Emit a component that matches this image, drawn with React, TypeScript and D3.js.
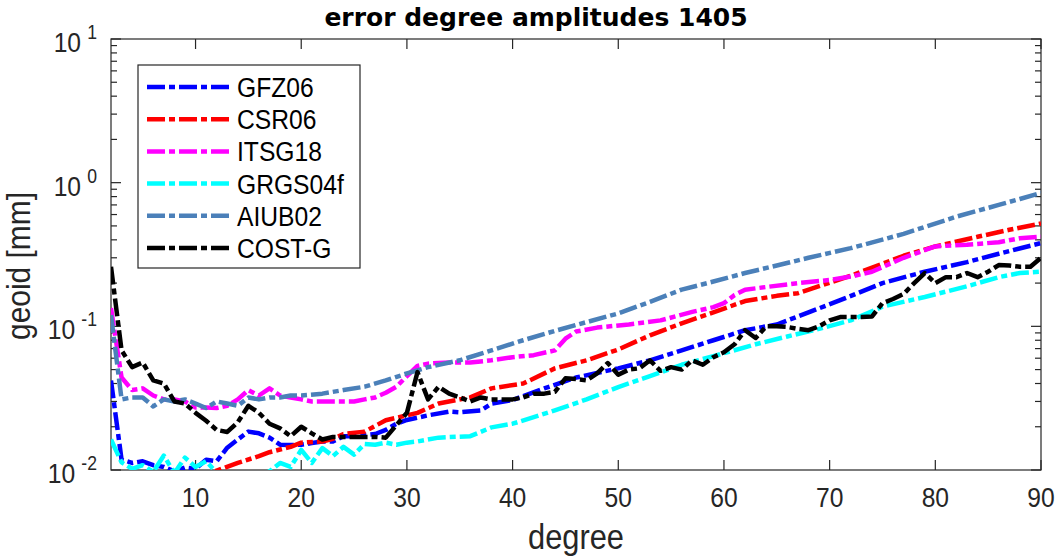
import React from 'react';
import * as d3 from 'd3';

// [degree, geoid error in mm]
const gfz06: [number, number][] = [
  [2, 0.042], [3, 0.0118], [4, 0.0112], [5, 0.0115], [6, 0.0108], [7, 0.0105], [8, 0.0098], [9, 0.0104],
  [10, 0.0102], [11, 0.0118], [12, 0.0115], [13, 0.0143], [14, 0.0163], [15, 0.0185], [16, 0.018], [17, 0.0168],
  [18, 0.015], [19, 0.0149], [20, 0.015], [21, 0.0154], [22, 0.0158], [23, 0.0158], [24, 0.0172], [25, 0.0172],
  [26, 0.0175], [27, 0.0178], [28, 0.019], [29, 0.021], [30, 0.0223], [32, 0.024], [34, 0.0255], [35, 0.0252],
  [37, 0.026], [38, 0.029], [40, 0.0307], [43, 0.037], [46, 0.044], [50, 0.051], [53, 0.058], [56, 0.068],
  [59, 0.08], [62, 0.094], [65, 0.103], [68, 0.125], [71, 0.152], [75, 0.2], [79, 0.24], [83, 0.28], [86, 0.32], [90, 0.38],
];
const csr06: [number, number][] = [
  [10, 0.0085], [11, 0.0092], [12, 0.0099], [14, 0.0112], [16, 0.0125], [17, 0.0133], [19, 0.0145], [20, 0.0155],
  [22, 0.0158], [23, 0.0165], [24, 0.0178], [26, 0.0185], [28, 0.0222], [30, 0.024], [31, 0.025], [33, 0.029],
  [36, 0.032], [38, 0.037], [41, 0.04], [44, 0.051], [47, 0.058], [50, 0.069], [53, 0.0866], [56, 0.105],
  [59, 0.125], [62, 0.15], [65, 0.163], [67, 0.17], [72, 0.225], [77, 0.31], [80, 0.36], [84, 0.42], [87, 0.47], [90, 0.52],
];
const itsg18: [number, number][] = [
  [2, 0.134], [3, 0.044], [4, 0.036], [5, 0.037], [6, 0.033], [7, 0.031], [8, 0.031], [9, 0.03],
  [10, 0.0272], [11, 0.0272], [12, 0.027], [13, 0.028], [14, 0.031], [15, 0.036], [16, 0.033], [17, 0.037],
  [18, 0.033], [19, 0.032], [20, 0.031], [21, 0.03], [22, 0.03], [23, 0.03], [24, 0.03], [25, 0.03],
  [26, 0.031], [27, 0.032], [28, 0.0345], [29, 0.038], [30, 0.045], [31, 0.053], [32, 0.055], [34, 0.056],
  [36, 0.056], [38, 0.058], [40, 0.061], [42, 0.063], [44, 0.068], [45, 0.082], [46, 0.092], [48, 0.098],
  [51, 0.103], [54, 0.11], [57, 0.126], [59, 0.136], [60, 0.145], [61, 0.165], [62, 0.18], [67, 0.2],
  [70, 0.21], [72, 0.222], [74, 0.24], [77, 0.3], [80, 0.36], [83, 0.37], [86, 0.385], [88, 0.41], [90, 0.42],
];
const grgs04f: [number, number][] = [
  [2, 0.0163], [3, 0.0113], [4, 0.0102], [5, 0.0108], [6, 0.0097], [7, 0.0126], [8, 0.0095], [9, 0.0122],
  [10, 0.0105], [11, 0.0115], [12, 0.0096], [13, 0.009], [14, 0.0088], [15, 0.0088], [16, 0.009], [17, 0.0098],
  [18, 0.0112], [19, 0.0105], [20, 0.0138], [21, 0.0112], [22, 0.0142], [23, 0.0125], [24, 0.0145], [25, 0.0128],
  [26, 0.0152], [27, 0.015], [28, 0.0155], [29, 0.015], [30, 0.0155], [31, 0.0158], [33, 0.0168], [36, 0.0172],
  [38, 0.0198], [40, 0.021], [42, 0.0233], [44, 0.026], [47, 0.031], [50, 0.0378], [53, 0.045], [56, 0.054],
  [59, 0.062], [63, 0.075], [66, 0.085], [69, 0.096], [72, 0.11], [75, 0.137], [79, 0.16], [83, 0.19],
  [86, 0.22], [88, 0.235], [90, 0.24],
];
const aiub02: [number, number][] = [
  [2, 0.12], [3, 0.031], [4, 0.032], [5, 0.032], [6, 0.0277], [7, 0.031], [8, 0.03], [9, 0.031],
  [10, 0.029], [11, 0.027], [12, 0.03], [13, 0.029], [14, 0.028], [15, 0.032], [16, 0.031], [17, 0.032],
  [18, 0.032], [19, 0.033], [20, 0.033], [22, 0.034], [24, 0.036], [26, 0.038], [28, 0.042], [30, 0.047],
  [32, 0.052], [35, 0.058], [38, 0.068], [41, 0.08], [44, 0.093], [47, 0.107], [50, 0.123], [53, 0.148],
  [56, 0.18], [59, 0.205], [62, 0.235], [65, 0.265], [68, 0.3], [72, 0.35], [77, 0.44], [82, 0.58],
  [86, 0.7], [88, 0.77], [90, 0.85],
];
const costG: [number, number][] = [
  [2, 0.26], [3, 0.068], [4, 0.052], [5, 0.056], [6, 0.042], [7, 0.04], [8, 0.03], [9, 0.029],
  [10, 0.025], [11, 0.022], [12, 0.019], [13, 0.0184], [14, 0.0215], [15, 0.028], [16, 0.025], [17, 0.021],
  [18, 0.0195], [19, 0.0172], [20, 0.02], [21, 0.018], [22, 0.0163], [23, 0.017], [24, 0.017], [25, 0.017],
  [26, 0.017], [27, 0.017], [28, 0.0168], [29, 0.0205], [30, 0.025], [31, 0.048], [32, 0.031], [33, 0.038],
  [34, 0.034], [35, 0.032], [36, 0.03], [37, 0.032], [38, 0.031], [39, 0.031], [40, 0.031], [41, 0.032],
  [42, 0.034], [43, 0.034], [44, 0.035], [45, 0.0435], [46, 0.043], [47, 0.042], [48, 0.047], [49, 0.0555],
  [50, 0.046], [51, 0.05], [52, 0.051], [53, 0.058], [54, 0.049], [55, 0.052], [56, 0.05], [57, 0.058],
  [58, 0.054], [59, 0.061], [60, 0.066], [61, 0.075], [62, 0.094], [63, 0.083], [64, 0.1], [65, 0.1],
  [66, 0.099], [67, 0.096], [68, 0.094], [69, 0.1], [70, 0.11], [71, 0.116], [72, 0.116], [73, 0.116],
  [74, 0.117], [75, 0.145], [76, 0.155], [77, 0.168], [78, 0.2], [79, 0.235], [80, 0.2], [81, 0.22],
  [82, 0.22], [83, 0.235], [84, 0.22], [85, 0.24], [86, 0.267], [87, 0.265], [88, 0.26], [89, 0.26], [90, 0.3],
];

const seriesNames = ['GFZ06', 'CSR06', 'ITSG18', 'GRGS04f', 'AIUB02', 'COST-G'];
const seriesData = [gfz06, csr06, itsg18, grgs04f, aiub02, costG];
const seriesColors = ['#0000ff', '#ff0000', '#ff00ff', '#00ffff', '#4b80b9', '#000000'];

const xTicks = [10, 20, 30, 40, 50, 60, 70, 80, 90];
const yDecades = [-2, -1, 0, 1];

const W = 1056;
const H = 556;
const L = 111, R = 1041, T = 39, B = 470;
const FONT = "'Liberation Sans', Arial, Helvetica, sans-serif";
const AX = '#262626';
const DASH = '18,4,6,4';
const LW = 4.5;
const SQ = 0.88; // narrow look of the exported fonts

function CText(props: {
  x: number; y: number; size: number; anchor?: string; weight?: string; fill?: string;
  rotate?: number; sx?: number; family?: string; children: React.ReactNode;
}) {
  const { x, y, size, anchor = 'start', weight = 'normal', fill = AX, rotate = 0, sx = SQ, family = FONT } = props;
  return (
    <text
      transform={`translate(${x},${y}) rotate(${rotate}) scale(${sx},1)`}
      fontSize={size}
      fontFamily={family}
      fontWeight={weight}
      textAnchor={anchor}
      fill={fill}
    >
      {props.children}
    </text>
  );
}

export default function App() {
  const x = d3.scaleLinear().domain([2, 90]).range([L, R]);
  const y = d3.scaleLog().domain([0.01, 10]).range([B, T]);
  const line = d3.line<[number, number]>().x(d => x(d[0])).y(d => y(d[1]));

  const minor: number[] = [];
  yDecades.slice(0, 3).forEach(e => {
    for (let k = 2; k <= 9; k++) minor.push(k * Math.pow(10, e));
  });

  const legX = 138, legY = 65, legW = 222, legH = 203, rowH = 32.2;

  return (
    <>
      <style>{`body{margin:0}`}</style>
      <svg width={W} height={H} style={{ display: 'block', background: '#fff' }}>
        <defs>
          <clipPath id="plot">
            <rect x={L} y={T} width={R - L} height={B - T} />
          </clipPath>
        </defs>
        <rect x={0} y={0} width={W} height={H} fill="#fff" />

        {/* box */}
        <rect x={L} y={T} width={R - L} height={B - T} fill="none" stroke={AX} strokeWidth={1.2} />

        {/* x ticks top and bottom */}
        {xTicks.map(t => (
          <g key={'xt' + t}>
            <line x1={x(t)} x2={x(t)} y1={B} y2={B - 10} stroke={AX} strokeWidth={1.2} />
            <line x1={x(t)} x2={x(t)} y1={T} y2={T + 10} stroke={AX} strokeWidth={1.2} />
            <CText x={x(t)} y={507} size={28} anchor="middle">{t}</CText>
          </g>
        ))}

        {/* y ticks left and right */}
        {yDecades.map(e => {
          const v = Math.pow(10, e);
          return (
            <g key={'yt' + e}>
              <line x1={L} x2={L + 10} y1={y(v)} y2={y(v)} stroke={AX} strokeWidth={1.2} />
              <line x1={R} x2={R - 10} y1={y(v)} y2={y(v)} stroke={AX} strokeWidth={1.2} />
              <text
                transform={`translate(97,${y(v) + 13}) scale(${SQ},1)`}
                fontFamily={FONT}
                fontSize={28}
                textAnchor="end"
                fill={AX}
              >
                <tspan>10</tspan>
                <tspan dx={7} dy={-13} fontSize={20}>{String(e)}</tspan>
              </text>
            </g>
          );
        })}
        {minor.map(v => (
          <g key={'ym' + v}>
            <line x1={L} x2={L + 6} y1={y(v)} y2={y(v)} stroke={AX} strokeWidth={1.2} />
            <line x1={R} x2={R - 6} y1={y(v)} y2={y(v)} stroke={AX} strokeWidth={1.2} />
          </g>
        ))}

        {/* data */}
        <g clipPath="url(#plot)">
          {seriesData.map((s, i) => (
            <path
              key={seriesNames[i]}
              d={line(s) || ''}
              fill="none"
              stroke={seriesColors[i]}
              strokeWidth={LW}
              strokeDasharray={DASH}
              strokeLinejoin="round"
            />
          ))}
        </g>

        {/* legend */}
        <rect x={legX} y={legY} width={legW} height={legH} fill="#fff" stroke={AX} strokeWidth={1.2} />
        {seriesNames.map((n, i) => {
          const ry = legY + 22 + i * rowH;
          return (
            <g key={'lg' + n}>
              <line x1={147} x2={230} y1={ry} y2={ry} stroke={seriesColors[i]} strokeWidth={LW} strokeDasharray={DASH} />
              <CText x={237} y={ry + 10} size={28} fill="#000">{n}</CText>
            </g>
          );
        })}

        {/* labels */}
        <CText x={536} y={26} size={25} anchor="middle" weight="bold" fill="#000" sx={1} family="'DejaVu Sans', sans-serif">
          error degree amplitudes 1405
        </CText>
        <CText x={(L + R) / 2} y={549} size={35} anchor="middle">degree</CText>
        <CText x={30} y={266} size={34} anchor="middle" rotate={-90}>geoid [mm]</CText>
      </svg>
    </>
  );
}
